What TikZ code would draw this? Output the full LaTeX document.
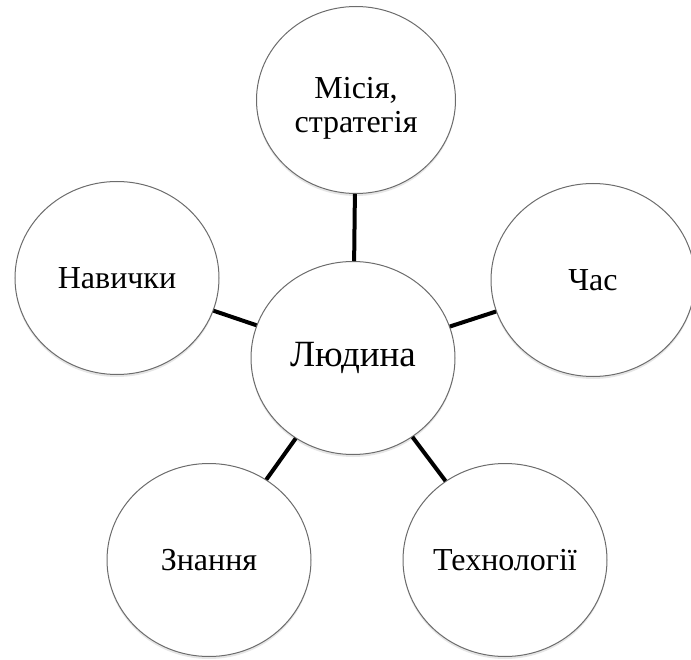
\documentclass[tikz,border=0pt]{standalone}
\usepackage{fontspec}
\setmainfont{Liberation Serif}
\usetikzlibrary{shapes.geometric,shadows,positioning}

\begin{document}
\begin{tikzpicture} [
      x = 1pt, y = -1pt,
      every node/.style = {ellipse, draw = gray!85!black, line width = 1pt, fill = white,
        minimum width = 204pt, minimum height = 193pt, align = center, inner sep = 0,
        drop shadow = {opacity = 0.2, shadow xshift = 0pt, shadow yshift = -2.5pt},
        font = \fontsize{32}{34}\selectfont},
      link/.style = {line width = 4pt, black}
      ]

      \useasboundingbox (0,0) rectangle (691,660);

      \node (lyudyna) at (353,358) [font = \fontsize{37}{40}\selectfont] {Людина};
      \node (misiya) at (356,100) [minimum width = 199pt, minimum height = 187pt]
        {\parbox[c]{138pt}{\centering\vspace*{16pt}Місія,\\стратегія}};
      \node (chas) at (593,280) {Час};
      \node (tekhnolohii) at (505,560) {Технології};
      \node (znannya) at (209,560) {Знання};
      \node (navychky) at (117,278) {Навички};

      \foreach \outer in {misiya, chas, tekhnolohii, znannya, navychky}
        \draw [link] (lyudyna) -- (\outer);
    \end{tikzpicture}
\end{document}
